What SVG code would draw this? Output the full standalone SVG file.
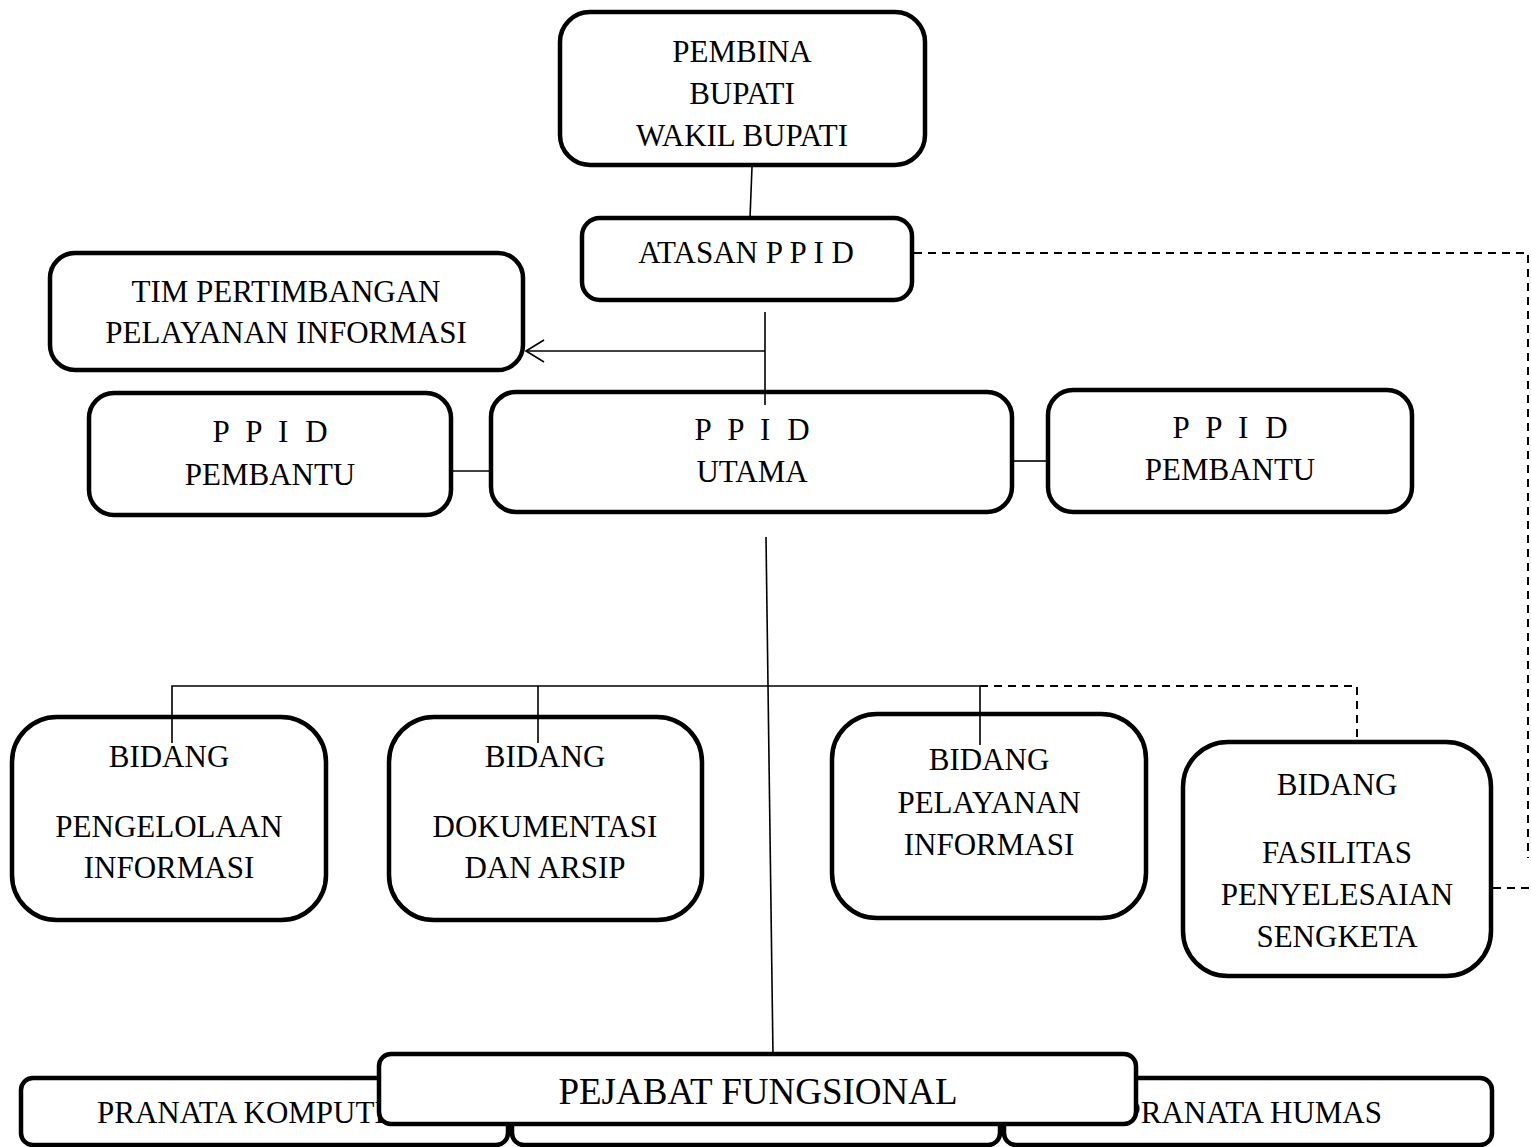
<svg xmlns="http://www.w3.org/2000/svg" width="1531" height="1147" viewBox="0 0 1531 1147">
<style>
.box{fill:#fff;stroke:#000;stroke-width:4.5}
.t{font-family:"Liberation Serif","Times New Roman",serif;font-size:31px;fill:#000;text-anchor:middle}
.ln{fill:none;stroke:#000;stroke-width:1.6}
.dash{fill:none;stroke:#000;stroke-width:2;stroke-dasharray:8 6}
</style>
<defs>
<marker id="open" markerWidth="22" markerHeight="26" refX="20" refY="12" orient="auto" markerUnits="userSpaceOnUse">
<path d="M2,1 L20,12 L2,23" fill="none" stroke="#000" stroke-width="1.6"/>
</marker>
</defs>
<g id="pembina">
<rect class="box" x="560" y="12" width="365" height="153" rx="30"/>
<text class="t" x="742" y="62">PEMBINA</text>
<text class="t" x="742" y="104">BUPATI</text>
<text class="t" x="742" y="146">WAKIL BUPATI</text>
</g>
<g id="atasan">
<rect class="box" x="582" y="218" width="330" height="82" rx="18"/>
<text class="t" x="746" y="263">ATASAN P P I D</text>
</g>
<g id="tim">
<rect class="box" x="50" y="253" width="473" height="117" rx="25"/>
<text class="t" x="286" y="302">TIM PERTIMBANGAN</text>
<text class="t" x="286" y="343">PELAYANAN INFORMASI</text>
</g>
<g id="pembantu-kiri">
<rect class="box" x="89" y="393" width="362" height="122" rx="25"/>
<text class="t" x="270" y="442" word-spacing="9">P P I D</text>
<text class="t" x="270" y="485">PEMBANTU</text>
</g>
<g id="utama">
<rect class="box" x="491" y="392" width="521" height="120" rx="25"/>
<text class="t" x="752" y="440" word-spacing="9">P P I D</text>
<text class="t" x="752" y="482">UTAMA</text>
</g>
<g id="pembantu-kanan">
<rect class="box" x="1048" y="390" width="364" height="122" rx="25"/>
<text class="t" x="1230" y="438" word-spacing="9">P P I D</text>
<text class="t" x="1230" y="480">PEMBANTU</text>
</g>
<g id="bidang-pengelolaan">
<rect class="box" x="12" y="717" width="314" height="203" rx="45"/>
<text class="t" x="169" y="767">BIDANG</text>
<text class="t" x="169" y="837">PENGELOLAAN</text>
<text class="t" x="169" y="878">INFORMASI</text>
</g>
<g id="bidang-dokumentasi">
<rect class="box" x="389" y="717" width="313" height="203" rx="45"/>
<text class="t" x="545" y="767">BIDANG</text>
<text class="t" x="545" y="837">DOKUMENTASI</text>
<text class="t" x="545" y="878">DAN ARSIP</text>
</g>
<g id="bidang-pelayanan">
<rect class="box" x="832" y="714" width="314" height="204" rx="45"/>
<text class="t" x="989" y="770">BIDANG</text>
<text class="t" x="989" y="813">PELAYANAN</text>
<text class="t" x="989" y="855">INFORMASI</text>
</g>
<g id="bidang-fasilitas">
<rect class="box" x="1183" y="742" width="308" height="234" rx="45"/>
<text class="t" x="1337" y="795">BIDANG</text>
<text class="t" x="1337" y="863">FASILITAS</text>
<text class="t" x="1337" y="905">PENYELESAIAN</text>
<text class="t" x="1337" y="947">SENGKETA</text>
</g>
<g id="pranata-komputer">
<rect class="box" x="21" y="1078" width="487" height="67" rx="12"/>
<text class="t" x="97" y="1123" style="text-anchor:start">PRANATA KOMPUTER</text>
</g>
<g id="pranata-tengah">
<rect class="box" x="512" y="1078" width="488" height="67" rx="12"/>
</g>
<g id="pranata-humas">
<rect class="box" x="1004" y="1078" width="488" height="67" rx="12"/>
<text class="t" x="1382" y="1123" style="text-anchor:end">PRANATA HUMAS</text>
</g>
<g id="pejabat-fungsional">
<rect class="box" x="379" y="1054" width="757" height="70" rx="12"/>
<text class="t" x="758" y="1104" style="font-size:37px">PEJABAT FUNGSIONAL</text>
</g>
<g id="connectors">
<line class="ln" x1="752" y1="167" x2="750" y2="218"/>
<line class="ln" x1="765" y1="312" x2="765" y2="405"/>
<line class="ln" x1="765" y1="351" x2="526" y2="351" marker-end="url(#open)"/>
<line class="ln" x1="453" y1="471" x2="489" y2="471"/>
<line class="ln" x1="1014" y1="461" x2="1046" y2="461"/>
<line class="ln" x1="766" y1="537" x2="773" y2="1056"/>
<polyline class="ln" points="172,743 172,686 980,686 980,745"/>
<line class="ln" x1="538" y1="686" x2="538" y2="743"/>
<polyline class="dash" points="980,686 1357,686 1357,742"/>
<polyline class="dash" points="914,253 1528,253 1528,858"/>
<line class="dash" x1="1493" y1="888" x2="1531" y2="888"/>
</g>
</svg>
